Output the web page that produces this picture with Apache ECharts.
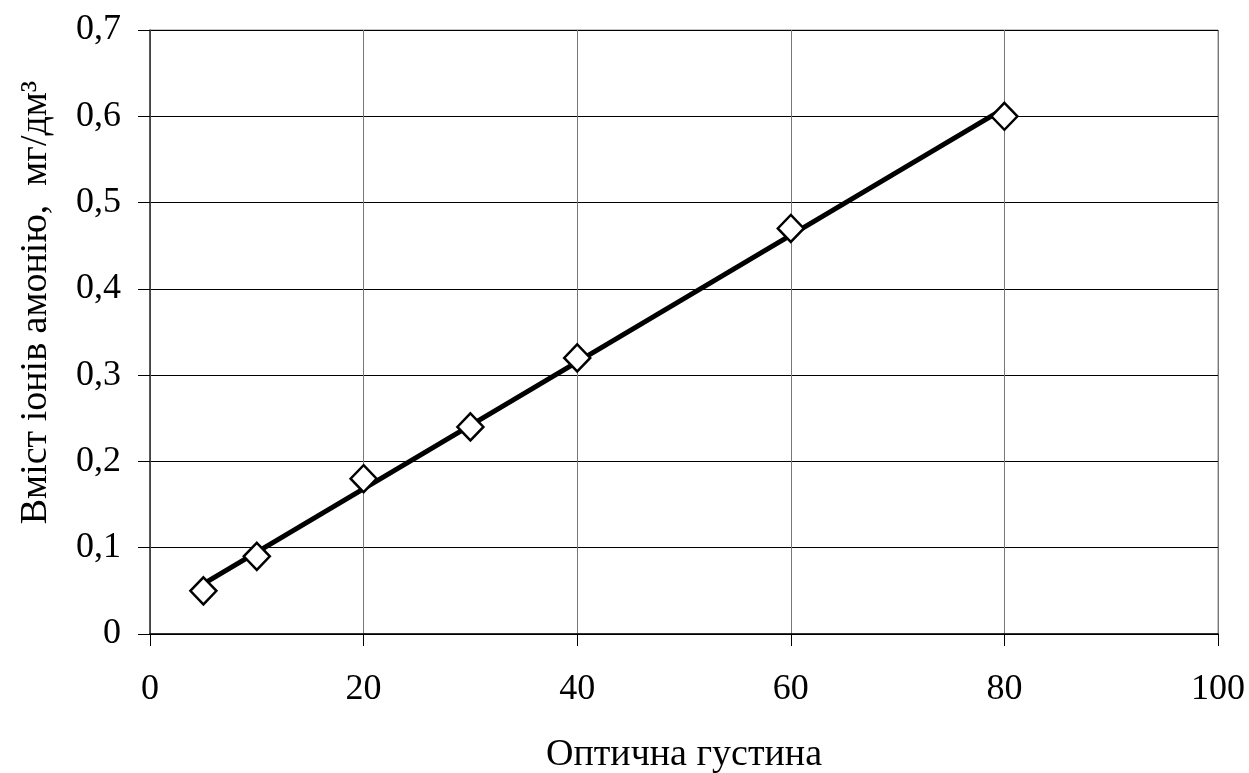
<!DOCTYPE html>
<html>
<head>
<meta charset="utf-8">
<script src="https://cdn.jsdelivr.net/npm/echarts@6/dist/echarts.min.js"></script>
<style>
  html, body { margin: 0; padding: 0; background: #fff; }
  #chart { width: 1249px; height: 773px; }
</style>
</head>
<body>
<div id="chart"></div>
<script>
// Calibration: optical density vs ammonium ion content
const opticalDensity = [5, 10, 20, 30, 40, 60, 80];
const ammoniumContent = [0.05, 0.09, 0.18, 0.24, 0.32, 0.47, 0.60];
const xTicks = [0, 20, 40, 60, 80, 100];
const yTicks = [0, 0.1, 0.2, 0.3, 0.4, 0.5, 0.6, 0.7];

// Least-squares linear trend over the measured points
function linearFit(xs, ys) {
  const n = xs.length;
  const mx = xs.reduce((a, b) => a + b, 0) / n;
  const my = ys.reduce((a, b) => a + b, 0) / n;
  let sxy = 0, sxx = 0;
  for (let i = 0; i < n; i++) {
    sxy += (xs[i] - mx) * (ys[i] - my);
    sxx += (xs[i] - mx) * (xs[i] - mx);
  }
  const k = sxy / sxx;
  return { k, b: my - k * mx };
}
const fit = linearFit(opticalDensity, ammoniumContent);
const xMin = Math.min(...opticalDensity), xMax = Math.max(...opticalDensity);
const trend = [[xMin, fit.k * xMin + fit.b], [xMax, fit.k * xMax + fit.b]];

const font = 'Liberation Serif, Times New Roman, serif';
const chart = echarts.init(document.getElementById('chart'));
chart.setOption({
  animation: false,
  backgroundColor: '#fff',
  grid: {
    left: 150, right: 31, top: 30, bottom: 139,
    outerBoundsMode: 'none', containLabel: false,
    show: true, borderColor: '#8c8c8c', borderWidth: 1
  },
  xAxis: {
    type: 'value', min: xTicks[0], max: xTicks[xTicks.length - 1], interval: 20,
    name: 'Оптична густина', nameLocation: 'middle', nameGap: 102,
    nameTextStyle: { fontFamily: font, fontSize: 38, color: '#000' },
    axisLine: { show: true, onZero: false, lineStyle: { color: '#000', width: 1.5 } },
    axisTick: { show: true, inside: false, length: 12, lineStyle: { color: '#000', width: 1 } },
    axisLabel: { margin: 38, fontFamily: font, fontSize: 36, color: '#000', formatter: v => String(v) },
    splitLine: { show: true, lineStyle: { color: '#777', width: 1 } }
  },
  yAxis: {
    type: 'value', min: yTicks[0], max: yTicks[yTicks.length - 1], interval: 0.1,
    name: 'Вміст іонів амонію,  мг/дм³', nameLocation: 'middle', nameGap: 95, nameRotate: 90,
    nameTextStyle: { fontFamily: font, fontSize: 38, color: '#000', padding: [0, 0, 0, 59] },
    axisLine: { show: true, onZero: false, lineStyle: { color: '#333', width: 1.5 } },
    axisTick: { show: true, inside: false, length: 12, lineStyle: { color: '#000', width: 1 } },
    axisLabel: { margin: 29, fontFamily: font, fontSize: 36, color: '#000',
      formatter: v => (Math.round(v * 10) / 10).toString().replace('.', ',') },
    splitLine: { show: true, lineStyle: { color: '#000', width: 1 } }
  },
  series: [
    {
      type: 'line', data: trend, symbol: 'none', z: 3,
      lineStyle: { color: '#000', width: 5 }
    },
    {
      type: 'scatter', z: 4,
      data: opticalDensity.map((x, i) => [x, ammoniumContent[i]]),
      symbol: 'diamond', symbolSize: [26, 27],
      itemStyle: { color: '#fff', borderColor: '#000', borderWidth: 2.5, opacity: 1 }
    }
  ]
});
</script>
</body>
</html>
